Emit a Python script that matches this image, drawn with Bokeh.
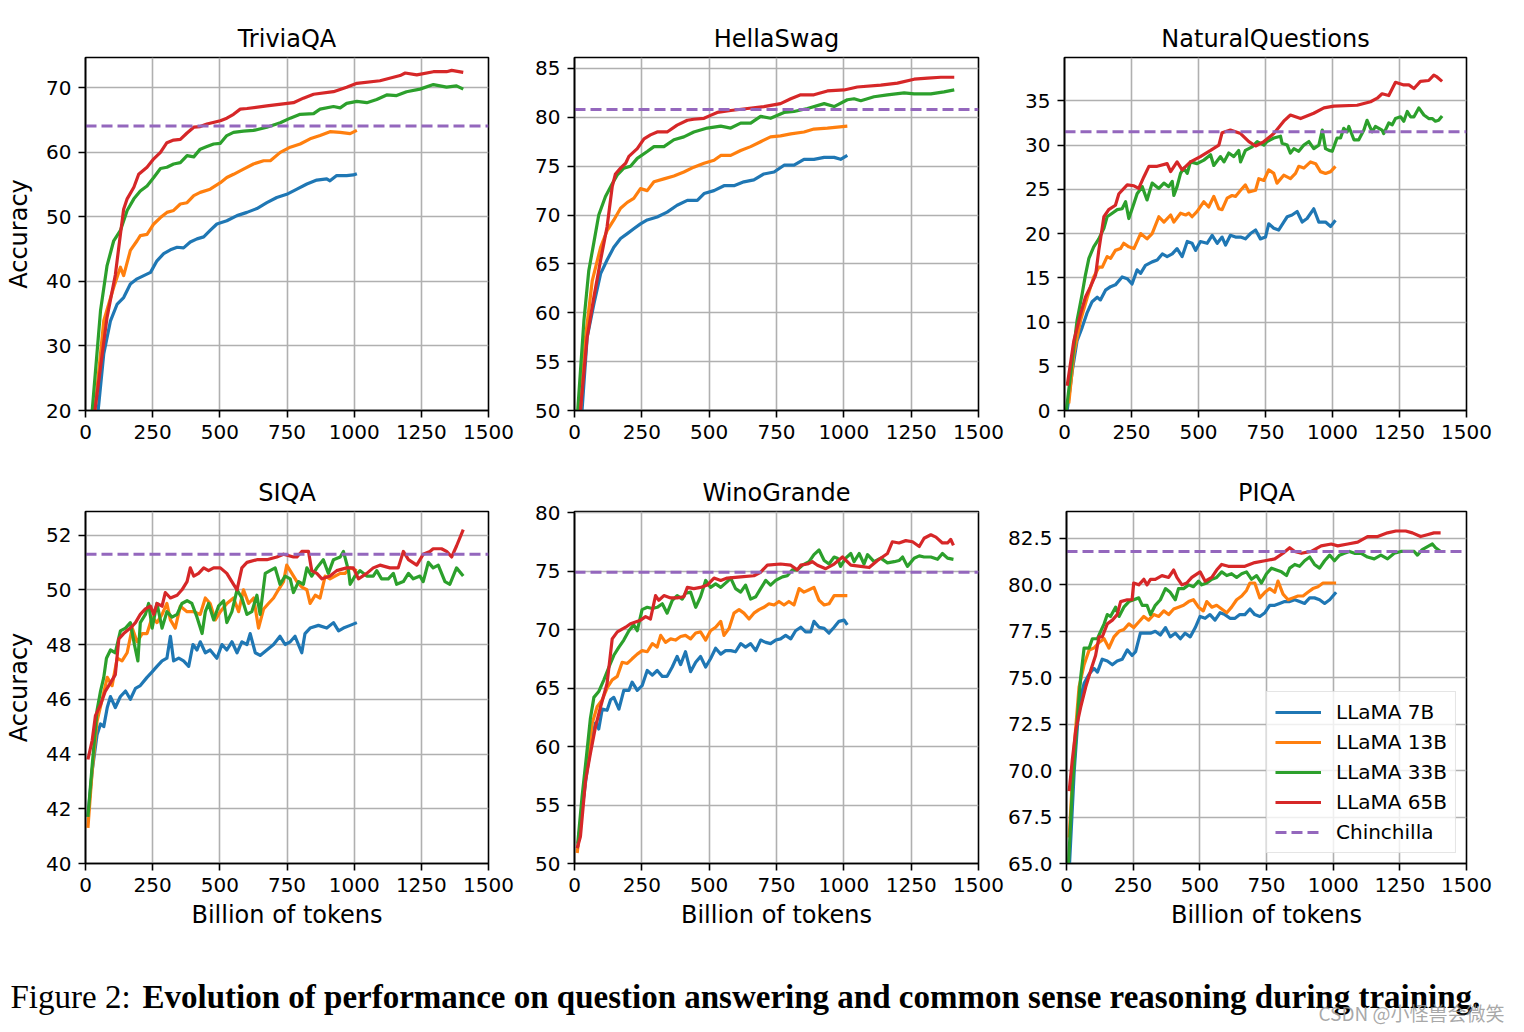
from bokeh.plotting import figure
from bokeh.models import Range1d, FixedTicker, NumeralTickFormatter, Label
from bokeh.layouts import column, row
from bokeh.embed import file_html
from bokeh.resources import INLINE

# ---------------- data ----------------
MODELS = ["LLaMA 7B", "LLaMA 13B", "LLaMA 33B", "LLaMA 65B"]
COLORS = ["#1f77b4", "#ff7f0e", "#2ca02c", "#d62728"]
CHIN_COLOR = "#9467bd"
X_TICKS = [0, 250, 500, 750, 1000, 1250, 1500]
X_LIM = (0, 1500)

# TriviaQA
TQA_7B = [(47,20),(68,28.8),(93,33.9),(118,36.5),(142,37.5),(167,39.6),(192,40.4),(217,40.9),(242,41.4),(266,43.2),(291,44.3),(316,44.9),(341,45.3),(365,45.2),(390,46.1),(415,46.6),(440,46.9),(464,47.9),(489,48.9),(526,49.4),(564,50.2),(601,50.7),(638,51.3),(675,52.2),(712,53.0),(749,53.5),(787,54.3),(824,55.1),(861,55.7),(898,55.9),(910,55.6),(935,56.4),(972,56.4),(997,56.5),(1010,56.7)]
TQA_13B = [(35,20),(68,33.9),(105,39.1),(130,42.2),(142,40.9),(167,44.8),(192,46.3),(204,47.1),(229,47.3),(254,48.9),(279,49.9),(303,50.7),(328,51.0),(353,52.0),(378,52.2),(403,53.3),(427,53.8),(464,54.3),(502,55.3),(526,56.1),(551,56.6),(588,57.4),(625,58.2),(663,58.7),(688,58.7),(725,60.0),(762,60.8),(799,61.3),(836,62.1),(873,62.6),(910,63.2),(948,63.1),(985,62.9),(1010,63.4)]
TQA_33B = [(25,20),(56,35.5),(80,42.4),(105,46.3),(130,47.9),(155,51.0),(180,52.8),(204,54.0),(229,54.8),(254,56.1),(279,57.5),(303,57.7),(328,58.2),(353,58.4),(378,59.5),(403,59.3),(427,60.5),(452,60.9),(477,61.3),(502,61.4),(526,62.6),(551,63.1),(588,63.3),(625,63.4),(675,63.9),(725,64.6),(762,65.3),(799,65.9),(849,66.0),(873,66.7),(923,67.1),(948,66.9),(972,67.6),(1010,67.9),(1047,67.7),(1084,68.2),(1121,68.9),(1158,68.8),(1195,69.4),(1245,69.8),(1295,70.5),(1344,70.1),(1381,70.3),(1406,69.8)]
TQA_65B = [(35,20),(80,34.4),(111,41.0),(130,47.3),(142,51.2),(155,52.8),(180,54.6),(198,56.6),(229,57.7),(254,59.0),(279,60.0),(303,61.5),(328,61.9),(353,62.0),(378,63.0),(403,63.9),(427,64.0),(452,64.4),(502,64.9),(526,65.3),(551,65.9),(576,66.7),(601,66.8),(675,67.2),(774,67.7),(811,68.4),(849,69.0),(923,69.4),(972,70.1),(1010,70.7),(1096,71.1),(1171,71.9),(1190,72.3),(1233,72.0),(1295,72.5),(1344,72.5),(1363,72.7),(1406,72.4)]
TQA_CHIN = 64.1

# HellaSwag
HS_7B = [(28,50),(47,57.5),(72,60.9),(97,64.0),(121,65.4),(146,66.7),(171,67.6),(196,68.1),(220,68.6),(245,69.1),(270,69.5),(307,69.8),(344,70.3),(381,71.0),(419,71.5),(456,71.5),(481,72.2),(518,72.5),(555,73.0),(592,73.0),(629,73.4),(666,73.6),(703,74.2),(741,74.4),(778,75.1),(815,75.1),(852,75.7),(889,75.7),(927,75.9),(964,75.9),(988,75.7),(1013,76.1)]
HS_13B = [(22,50),(41,57.5),(66,63.3),(97,66.7),(121,68.4),(146,69.5),(171,70.7),(196,71.3),(220,71.7),(245,72.7),(270,72.5),(295,73.4),(332,73.7),(369,74.0),(406,74.4),(443,74.9),(481,75.3),(518,75.6),(543,76.1),(580,76.1),(617,76.6),(654,77.0),(691,77.5),(728,78.0),(765,78.1),(803,78.3),(852,78.5),(889,78.8),(939,78.9),(976,79.0),(1013,79.1)]
HS_33B = [(12,50),(35,59.2),(53,64.3),(72,67.2),(90,70.0),(115,71.9),(140,73.2),(159,74.1),(183,74.8),(208,75.0),(233,75.8),(270,76.5),(295,77.0),(332,77.0),(369,77.7),(406,78.0),(443,78.5),(493,78.9),(543,79.1),(580,78.9),(617,79.4),(654,79.4),(691,80.1),(728,79.9),(778,80.5),(815,80.6),(865,80.9),(927,81.4),(964,81.1),(1013,81.8),(1038,81.9),(1063,81.7),(1112,82.1),(1162,82.3),(1224,82.5),(1261,82.4),(1323,82.4),(1372,82.6),(1410,82.8)]
HS_65B = [(22,50),(47,57.5),(72,61.6),(97,65.4),(121,68.8),(140,72.9),(152,74.2),(171,74.8),(190,75.3),(202,76.0),(233,76.8),(258,77.8),(282,78.2),(307,78.5),(344,78.5),(381,79.2),(419,79.7),(443,79.8),(481,79.9),(505,80.2),(530,80.5),(580,80.7),(642,80.9),(703,81.1),(765,81.4),(803,81.9),(840,82.3),(889,82.3),(939,82.7),(1001,82.8),(1050,83.1),(1137,83.3),(1199,83.5),(1261,83.9),(1311,84.0),(1360,84.1),(1410,84.1)]
HS_CHIN = 80.8

# NaturalQuestions
NQ_7B = [(10,0),(29,4.5),(47,7.9),(66,9.4),(85,11.1),(103,12.3),(122,12.8),(134,12.5),(153,13.6),(172,14.0),(190,14.2),(215,15.1),(234,14.9),(252,14.3),(271,15.9),(284,15.5),(302,16.4),(327,16.8),(346,17.0),(365,17.7),(383,17.4),(402,17.7),(420,18.3),(439,17.4),(458,19.1),(476,18.9),(489,18.1),(507,19.1),(532,18.9),(551,19.8),(570,18.9),(588,19.6),(601,18.7),(619,19.8),(638,19.6),(657,19.6),(675,19.4),(694,20.0),(713,20.4),(731,19.4),(750,19.6),(762,21.1),(781,20.6),(799,20.4),(818,21.3),(831,21.9),(849,22.1),(868,22.5),(887,21.3),(905,21.7),(930,22.8),(949,21.3),(974,21.3),(993,20.8),(1011,21.5)]
NQ_13B = [(16,0.8),(35,6.4),(60,10.2),(85,12.8),(109,15.1),(128,16.2),(141,16.2),(159,17.4),(172,17.2),(190,18.1),(209,18.3),(221,18.9),(240,18.5),(259,18.3),(284,20.0),(308,19.4),(327,20.0),(352,21.9),(371,21.3),(396,22.1),(408,21.3),(433,22.3),(452,22.1),(464,22.3),(476,21.9),(495,22.5),(520,23.6),(538,23.0),(557,24.2),(576,22.8),(588,22.7),(607,24.0),(625,24.3),(638,24.2),(657,24.9),(675,25.5),(688,24.7),(713,24.9),(725,26.2),(744,26.0),(762,27.2),(781,26.8),(793,25.7),(818,26.6),(843,26.2),(862,26.8),(874,27.6),(893,27.4),(918,28.1),(937,27.9),(955,27.0),(974,26.8),(993,27.0),(1011,27.6)]
NQ_33B = [(7,0),(29,5.7),(47,10.2),(66,13.2),(78,15.3),(91,17.2),(109,18.5),(128,19.4),(147,20.6),(159,21.9),(178,22.3),(197,22.7),(215,22.8),(228,23.6),(240,21.7),(259,23.4),(271,24.5),(290,25.3),(308,23.8),(327,25.7),(352,25.1),(371,25.7),(389,25.3),(402,25.9),(408,24.3),(420,25.3),(433,26.8),(445,27.4),(458,26.8),(470,28.1),(495,27.9),(520,28.3),(545,28.9),(557,27.7),(582,28.7),(595,28.1),(613,29.1),(632,28.7),(650,29.4),(657,28.1),(675,29.4),(700,29.8),(719,30.4),(744,30.0),(756,30.4),(781,30.8),(806,31.0),(812,30.2),(831,30.0),(843,29.1),(856,29.6),(874,29.3),(893,30.0),(912,30.4),(930,29.6),(949,30.0),(962,31.7),(974,29.6),(987,29.4),(999,29.3),(1017,30.8),(1030,30.8),(1042,31.9),(1055,31.5),(1061,32.1),(1080,30.6),(1098,30.6),(1117,31.7),(1129,32.8),(1148,31.5),(1160,32.1),(1185,31.7),(1191,31.3),(1210,32.5),(1223,32.3),(1235,33.0),(1254,33.2),(1266,32.7),(1279,33.8),(1291,33.2),(1304,33.2),(1322,34.2),(1341,33.4),(1359,33.0),(1372,33.0),(1384,32.7),(1396,32.8),(1409,33.3)]
NQ_65B = [(10,2.8),(35,7.9),(60,10.9),(78,12.8),(97,14.0),(116,15.3),(128,18.1),(147,21.9),(165,22.7),(190,23.2),(203,24.5),(234,25.5),(259,25.4),(277,25.1),(296,26.4),(315,27.6),(346,27.6),(383,27.9),(396,27.0),(420,28.1),(439,27.2),(470,28.1),(507,28.7),(545,29.4),(576,30.0),(588,31.4),(619,31.7),(657,31.3),(688,30.4),(713,29.9),(744,30.4),(781,31.3),(818,32.7),(843,33.4),(881,33.0),(930,33.6),(968,34.2),(1005,34.4),(1092,34.5),(1142,34.9),(1167,35.3),(1185,35.8),(1210,35.6),(1235,37.1),(1266,36.8),(1285,36.8),(1304,36.4),(1328,37.2),(1359,37.3),(1378,37.9),(1390,37.7),(1409,37.2)]
NQ_CHIN = 31.5

# SIQA
SIQA_7B = [(9,41.7),(25,43.4),(43,44.7),(56,45.1),(68,45.0),(81,45.7),(93,46.1),(111,45.7),(130,46.1),(149,46.3),(167,46.0),(186,46.4),(204,46.5),(229,46.8),(248,47.0),(266,47.2),(285,47.4),(303,47.5),(316,48.3),(328,47.4),(347,47.5),(365,47.4),(384,47.2),(400,48.0),(415,47.8),(427,48.1),(446,47.7),(464,47.8),(489,47.5),(508,48.0),(526,47.8),(545,48.1),(564,47.7),(582,48.1),(601,48.0),(613,48.4),(632,47.7),(650,47.6),(675,47.8),(700,48.0),(724,48.3),(743,48.0),(762,48.1),(780,48.3),(805,47.7),(817,48.4),(836,48.6),(867,48.7),(898,48.6),(923,48.8),(942,48.5),(960,48.6),(985,48.7),(1010,48.8)]
SIQA_13B = [(9,41.3),(25,43.4),(43,45.2),(62,46.0),(81,46.8),(99,46.5),(118,47.5),(136,47.4),(155,47.7),(174,48.6),(192,48.1),(211,48.4),(229,48.4),(248,49.0),(266,48.8),(285,49.1),(303,49.5),(316,48.9),(334,48.6),(353,49.4),(378,49.2),(403,49.2),(427,49.1),(446,49.7),(464,49.5),(483,48.9),(502,49.2),(526,49.5),(551,49.7),(570,49.2),(588,50.0),(607,49.5),(626,49.7),(644,48.6),(663,49.3),(681,49.5),(700,49.7),(718,50.0),(737,50.3),(749,50.9),(768,50.6),(787,50.3),(805,50.1),(824,50.0),(836,49.5),(855,49.8),(873,49.7),(892,50.5),(910,50.4),(929,50.5),(948,50.6),(966,50.6),(985,50.8),(1010,50.7)]
SIQA_33B = [(9,41.7),(25,43.6),(43,45.6),(56,46.3),(68,46.8),(78,47.5),(93,47.8),(111,47.7),(130,48.5),(149,48.6),(167,48.8),(182,48.0),(195,47.4),(204,48.8),(223,49.1),(235,49.5),(248,48.6),(266,49.5),(285,48.6),(303,49.2),(322,49.0),(341,49.1),(359,49.5),(378,49.6),(396,49.5),(415,49.0),(434,48.4),(446,49.2),(458,49.5),(477,48.9),(495,49.4),(514,49.6),(526,48.8),(545,49.2),(564,50.0),(582,49.7),(601,49.1),(619,49.2),(638,49.8),(650,49.1),(669,50.6),(687,50.7),(706,50.8),(724,50.2),(743,50.5),(762,50.4),(774,49.9),(793,50.3),(811,50.2),(824,50.8),(842,50.5),(861,50.8),(885,51.1),(904,50.6),(923,51.1),(948,51.2),(960,51.4),(979,50.7),(985,50.2),(1003,50.5),(1022,50.7),(1047,50.5),(1071,50.5),(1084,50.7),(1102,50.4),(1127,50.4),(1146,50.6),(1158,50.2),(1183,50.3),(1202,50.6),(1220,50.4),(1245,50.5),(1257,50.3),(1276,51.0),(1294,50.8),(1313,50.9),(1338,50.3),(1356,50.2),(1381,50.8),(1406,50.5)]
SIQA_65B = [(9,43.8),(25,44.5),(37,45.4),(56,45.8),(74,46.3),(93,46.6),(111,46.9),(124,48.2),(142,48.4),(167,48.6),(186,48.8),(204,49.1),(223,49.3),(242,49.4),(254,49.1),(266,49.5),(285,49.4),(297,49.9),(316,49.7),(341,49.8),(359,50.0),(378,50.3),(390,50.8),(403,50.5),(421,50.6),(440,50.8),(458,50.7),(477,50.8),(502,50.8),(526,50.6),(551,50.2),(564,50.0),(582,50.8),(601,51.0),(638,51.1),(675,51.1),(712,51.2),(737,51.3),(774,51.2),(787,51.2),(805,51.4),(830,51.4),(842,50.7),(861,50.6),(880,50.4),(910,50.5),(935,50.7),(972,50.8),(997,50.8),(1016,50.4),(1047,50.6),(1071,50.8),(1096,50.9),(1133,50.8),(1164,50.8),(1183,51.4),(1202,51.1),(1233,50.9),(1257,51.3),(1282,51.4),(1294,51.5),(1325,51.5),(1344,51.4),(1363,51.2),(1381,51.6),(1406,52.2)]
SIQA_CHIN = 51.3

# WinoGrande
WG_7B = [(12,51.4),(28,54.6),(47,58.0),(66,60.8),(78,62.0),(90,61.5),(103,63.2),(121,63.1),(134,64.0),(146,64.2),(165,63.2),(183,64.8),(202,64.8),(214,65.5),(233,64.8),(251,65.2),(270,66.5),(289,66.1),(307,66.5),(326,66.0),(344,66.0),(363,66.8),(381,67.7),(394,67.0),(412,68.1),(431,66.4),(450,67.2),(468,67.7),(487,66.8),(505,67.5),(524,68.4),(543,67.9),(561,68.2),(580,68.2),(598,68.1),(617,68.8),(635,68.5),(654,68.8),(673,68.2),(691,69.1),(710,68.9),(728,68.8),(747,69.1),(765,69.2),(784,69.5),(803,69.2),(821,69.9),(840,70.2),(858,69.8),(877,69.8),(889,70.7),(908,70.2),(927,70.1),(945,69.7),(964,70.2),(982,70.7),(1001,70.8),(1013,70.4)]
WG_13B = [(10,50.9),(28,54.6),(47,58.5),(66,62.0),(84,63.4),(103,64.0),(121,65.0),(140,65.7),(159,66.0),(177,67.2),(196,67.1),(214,67.5),(233,67.9),(251,68.2),(270,68.1),(289,68.8),(307,68.5),(320,69.5),(338,68.9),(357,69.2),(375,69.1),(394,69.4),(412,69.5),(431,69.2),(450,69.7),(468,69.8),(487,69.1),(505,69.9),(524,70.2),(543,70.7),(555,69.5),(574,70.1),(592,71.4),(611,71.7),(629,71.4),(648,70.9),(666,71.4),(685,71.7),(703,71.9),(722,72.2),(741,72.1),(759,72.4),(778,72.1),(796,72.4),(815,72.1),(834,73.5),(852,73.2),(871,73.4),(889,73.6),(908,72.5),(927,72.1),(945,72.2),(964,72.9),(988,72.9),(1013,72.9)]
WG_33B = [(12,51.7),(28,55.7),(45,59.3),(59,62.4),(72,64.2),(90,64.7),(109,65.7),(128,66.8),(146,67.8),(165,68.5),(183,69.1),(202,69.9),(220,70.4),(233,69.9),(251,71.7),(270,71.9),(289,71.8),(307,71.9),(326,72.2),(344,71.4),(363,72.5),(381,72.9),(400,72.6),(412,73.1),(431,73.2),(450,71.9),(468,72.8),(487,74.2),(505,73.6),(524,73.9),(543,73.6),(567,74.1),(580,74.4),(598,73.5),(617,73.2),(635,73.8),(654,72.6),(673,72.8),(691,73.5),(710,74.2),(728,73.8),(747,74.2),(772,74.5),(790,74.6),(809,75.1),(827,75.1),(846,75.5),(871,75.8),(889,76.4),(908,76.8),(927,75.9),(945,75.6),(964,76.2),(976,76.1),(988,75.4),(1007,76.1),(1026,76.5),(1038,75.8),(1057,76.5),(1075,75.6),(1088,76.4),(1112,75.8),(1137,76.1),(1162,75.7),(1187,75.8),(1205,75.9),(1218,76.2),(1236,75.4),(1261,76.1),(1280,76.3),(1298,76.2),(1323,76.2),(1348,76.0),(1366,76.5),(1385,76.1),(1407,76.0)]
WG_65B = [(10,51.3),(22,52.3),(41,57.1),(59,59.4),(78,61.7),(97,63.4),(121,65.4),(140,69.2),(159,69.8),(190,70.2),(208,70.5),(245,70.8),(264,71.1),(282,70.9),(301,72.9),(313,72.5),(332,72.9),(357,72.7),(381,72.7),(406,72.8),(419,73.6),(443,73.5),(468,73.6),(493,73.8),(518,74.4),(543,74.2),(567,74.4),(617,74.5),(666,74.6),(691,74.9),(716,75.5),(765,75.6),(803,75.5),(827,75.1),(840,75.5),(865,75.6),(883,75.8),(902,75.5),(933,75.2),(964,75.6),(995,76.2),(1026,75.5),(1063,75.4),(1094,75.3),(1125,75.9),(1162,76.5),(1180,77.5),(1205,77.4),(1230,77.6),(1255,77.5),(1280,77.1),(1298,77.8),(1323,78.1),(1342,77.9),(1366,77.4),(1385,77.4),(1397,77.7),(1407,77.2)]
WG_CHIN = 74.9

# PIQA
PIQA_7B = [(10,64.6),(29,70.0),(47,73.6),(66,74.7),(85,75.2),(103,75.5),(116,75.3),(134,76.0),(153,75.9),(172,75.7),(190,75.9),(209,76.0),(228,76.5),(246,76.2),(259,76.4),(277,77.4),(296,77.4),(315,77.4),(333,77.5),(352,77.3),(371,77.7),(389,77.2),(408,77.4),(427,77.1),(445,77.4),(464,77.2),(483,77.7),(501,78.3),(520,78.2),(538,78.4),(557,78.1),(576,78.5),(594,78.4),(613,78.2),(632,78.2),(650,78.4),(669,78.4),(688,78.7),(706,78.4),(725,78.3),(744,78.5),(762,78.9),(781,78.9),(799,79.0),(818,79.1),(837,79.1),(856,79.2),(874,79.1),(893,79.0),(912,79.3),(930,79.3),(949,79.2),(968,79.0),(987,79.2),(1011,79.6)]
PIQA_13B = [(10,66.4),(29,71.3),(47,74.5),(66,75.7),(85,76.5),(103,76.6),(122,76.9),(141,77.1),(159,76.6),(178,77.2),(197,77.5),(215,77.6),(234,77.9),(252,77.7),(271,78.0),(290,78.3),(308,78.1),(327,78.4),(346,78.3),(365,78.6),(383,78.4),(402,78.7),(420,78.8),(439,78.9),(458,79.1),(476,79.2),(495,78.8),(513,78.6),(526,79.1),(545,78.8),(563,78.9),(582,78.7),(601,78.5),(619,78.8),(638,79.2),(657,79.4),(675,79.7),(688,80.1),(706,80.1),(725,79.3),(744,79.6),(762,79.8),(781,79.6),(793,80.2),(812,79.5),(831,79.2),(849,79.3),(868,79.4),(887,79.4),(905,79.6),(924,79.8),(943,79.9),(962,80.1),(980,80.1),(1011,80.1)]
PIQA_33B = [(7,64.8),(22,69.1),(41,72.9),(53,75.0),(66,76.6),(85,76.6),(97,77.1),(116,77.1),(128,77.5),(141,77.9),(153,78.4),(165,78.3),(184,78.8),(197,78.3),(215,78.8),(234,79.1),(252,79.2),(271,79.3),(284,78.9),(302,78.9),(315,78.4),(333,78.9),(352,79.2),(371,79.8),(389,79.6),(408,79.2),(420,79.8),(439,79.8),(458,80.0),(476,79.9),(495,80.2),(507,80.0),(526,80.1),(545,80.3),(563,80.4),(582,80.7),(601,80.5),(619,80.6),(638,80.4),(657,80.6),(675,80.7),(694,80.3),(713,80.5),(731,80.1),(750,80.6),(769,80.9),(787,80.8),(806,80.7),(825,80.5),(837,80.9),(856,81.1),(874,81.0),(893,81.3),(912,81.5),(930,81.1),(949,80.9),(968,81.3),(987,81.6),(1005,81.3),(1024,81.6),(1042,81.7),(1061,81.8),(1080,81.7),(1105,81.7),(1129,81.5),(1154,81.4),(1179,81.6),(1204,81.4),(1229,81.7),(1254,81.8),(1279,81.8),(1304,81.8),(1316,81.6),(1334,81.9),(1359,82.1),(1372,82.2),(1384,82.0),(1403,81.8)]
PIQA_65B = [(10,68.9),(22,70.6),(35,72.2),(53,73.4),(72,74.5),(91,75.4),(109,76.2),(122,77.2),(134,77.2),(153,77.9),(172,78.1),(190,78.4),(203,79.1),(228,79.2),(246,79.2),(252,80.1),(271,80.0),(290,80.3),(302,80.0),(315,80.3),(333,80.3),(358,80.5),(383,80.4),(402,80.8),(414,80.4),(433,80.0),(451,80.1),(470,80.4),(501,80.7),(520,80.2),(545,80.4),(563,80.8),(582,81.1),(607,81.0),(632,81.0),(669,81.0),(706,81.2),(744,81.3),(781,81.4),(812,81.7),(837,82.0),(856,81.8),(881,81.7),(918,81.8),(955,82.1),(993,82.2),(1017,82.1),(1055,82.2),(1092,82.3),(1129,82.6),(1167,82.6),(1204,82.8),(1235,82.9),(1272,82.9),(1297,82.8),(1328,82.6),(1353,82.7),(1378,82.8),(1403,82.8)]
PIQA_CHIN = 81.8

PANELS = [
    ("TriviaQA", [TQA_7B, TQA_13B, TQA_33B, TQA_65B], TQA_CHIN, (20, 74.7), [20, 30, 40, 50, 60, 70], None),
    ("HellaSwag", [HS_7B, HS_13B, HS_33B, HS_65B], HS_CHIN, (50, 86.12), [50, 55, 60, 65, 70, 75, 80, 85], None),
    ("NaturalQuestions", [NQ_7B, NQ_13B, NQ_33B, NQ_65B], NQ_CHIN, (0, 39.9), [0, 5, 10, 15, 20, 25, 30, 35], None),
    ("SIQA", [SIQA_7B, SIQA_13B, SIQA_33B, SIQA_65B], SIQA_CHIN, (40, 52.86), [40, 42, 44, 46, 48, 50, 52], None),
    ("WinoGrande", [WG_7B, WG_13B, WG_33B, WG_65B], WG_CHIN, (50, 80.09), [50, 55, 60, 65, 70, 75, 80], None),
    ("PIQA", [PIQA_7B, PIQA_13B, PIQA_33B, PIQA_65B], PIQA_CHIN, (65, 83.95), [65, 67.5, 70, 72.5, 75, 77.5, 80, 82.5], "0.0"),
]

# layout geometry (pixels)
COL_W = [518, 486, 520]
COL_BL = [85, 56, 60]
COL_BR = [30, 26, 58]
ROW_H = [462, 478]
ROW_BT = [57, 49]
ROW_BB = [52, 77]

FONT = "DejaVu Sans"


def make_panel(idx):
    title, series, chin, yr, yticks, fmt = PANELS[idx]
    r, c = divmod(idx, 3)
    p = figure(width=COL_W[c], height=ROW_H[r],
               x_range=Range1d(*X_LIM), y_range=Range1d(*yr),
               output_backend="svg", toolbar_location=None,
               min_border_left=COL_BL[c], min_border_right=COL_BR[c],
               min_border_top=ROW_BT[r], min_border_bottom=ROW_BB[r])
    p.title.text = title
    p.title.align = "center"
    p.title.text_font = FONT
    p.title.text_font_size = "24px"
    p.title.text_font_style = "normal"
    p.title.text_color = "black"
    p.title.standoff = 9

    legend = (idx == 5)
    for name, col, data in zip(MODELS, COLORS, series):
        xs = [d[0] for d in data]
        ys = [d[1] for d in data]
        kw = dict(legend_label=name) if legend else {}
        p.line(xs, ys, line_color=col, line_width=3.2, line_join="round", **kw)
    kw = dict(legend_label="Chinchilla") if legend else {}
    p.line(list(X_LIM), [chin, chin], line_color=CHIN_COLOR, line_width=3,
           line_dash="11 5", **kw)

    p.xaxis.ticker = FixedTicker(ticks=X_TICKS)
    p.yaxis.ticker = FixedTicker(ticks=yticks)
    if fmt:
        p.yaxis.formatter = NumeralTickFormatter(format=fmt)
    for ax in (p.xaxis[0], p.yaxis[0]):
        ax.major_label_text_font = FONT
        ax.major_label_text_font_size = "20px"
        ax.major_label_text_color = "black"
        ax.axis_line_color = "black"
        ax.axis_line_width = 1.6
        ax.major_tick_line_color = "black"
        ax.major_tick_line_width = 1.6
        ax.major_tick_in = 0
        ax.major_tick_out = 7
        ax.minor_tick_line_color = None
        ax.major_label_standoff = 7
        ax.axis_label_text_font = FONT
        ax.axis_label_text_font_size = "24px"
        ax.axis_label_text_font_style = "normal"
        ax.axis_label_text_color = "black"
    if c == 0:
        p.yaxis.axis_label = "Accuracy"
        p.yaxis.axis_label_standoff = 10
    if r == 1:
        p.xaxis.axis_label = "Billion of tokens"
        p.xaxis.axis_label_standoff = 6
    p.grid.grid_line_color = "#b0b0b0"
    p.grid.grid_line_width = 1.6
    p.outline_line_color = "black"
    p.outline_line_width = 1.6
    p.outline_line_alpha = 1.0

    if legend:
        lg = p.legend[0]
        lg.location = "bottom_right"
        lg.margin = 10
        lg.padding = 8
        lg.spacing = 6
        lg.glyph_width = 46
        lg.glyph_height = 20
        lg.label_height = 20
        lg.label_standoff = 15
        lg.label_text_font = FONT
        lg.label_text_font_size = "20px"
        lg.label_text_color = "black"
        lg.border_line_color = "#cccccc"
        lg.border_line_width = 1.5
        lg.background_fill_alpha = 0.8
    return p


panels = [make_panel(i) for i in range(6)]

CAPTION_LEAD = "Figure 2:"
CAPTION_BOLD = "Evolution of performance on question answering and common sense reasoning during training."
WATERMARK = "CSDN @小怪兽会微笑"

cap = figure(width=1524, height=92, x_range=Range1d(0, 1524), y_range=Range1d(0, 92),
             output_backend="svg", toolbar_location=None, min_border=0,
             x_axis_type=None, y_axis_type=None)
cap.grid.visible = False
cap.outline_line_color = None
cap.add_layout(Label(x=10, y=36, text=CAPTION_LEAD, text_font="Liberation Serif",
                     text_font_size="33px", text_color="black", text_baseline="alphabetic"))
cap.add_layout(Label(x=142, y=36, text=CAPTION_BOLD, text_font="Liberation Serif",
                     text_font_size="33px", text_font_style="bold", text_color="black",
                     text_baseline="alphabetic"))
cap.add_layout(Label(x=1318, y=20, text=WATERMARK, text_font="Noto Sans CJK SC",
                     text_font_size="19px", text_color="#999999", text_alpha=0.85,
                     text_baseline="alphabetic"))

layout = column(row(*panels[:3]), row(*panels[3:]), cap)
open("out.html", "w").write(file_html(layout, INLINE))
